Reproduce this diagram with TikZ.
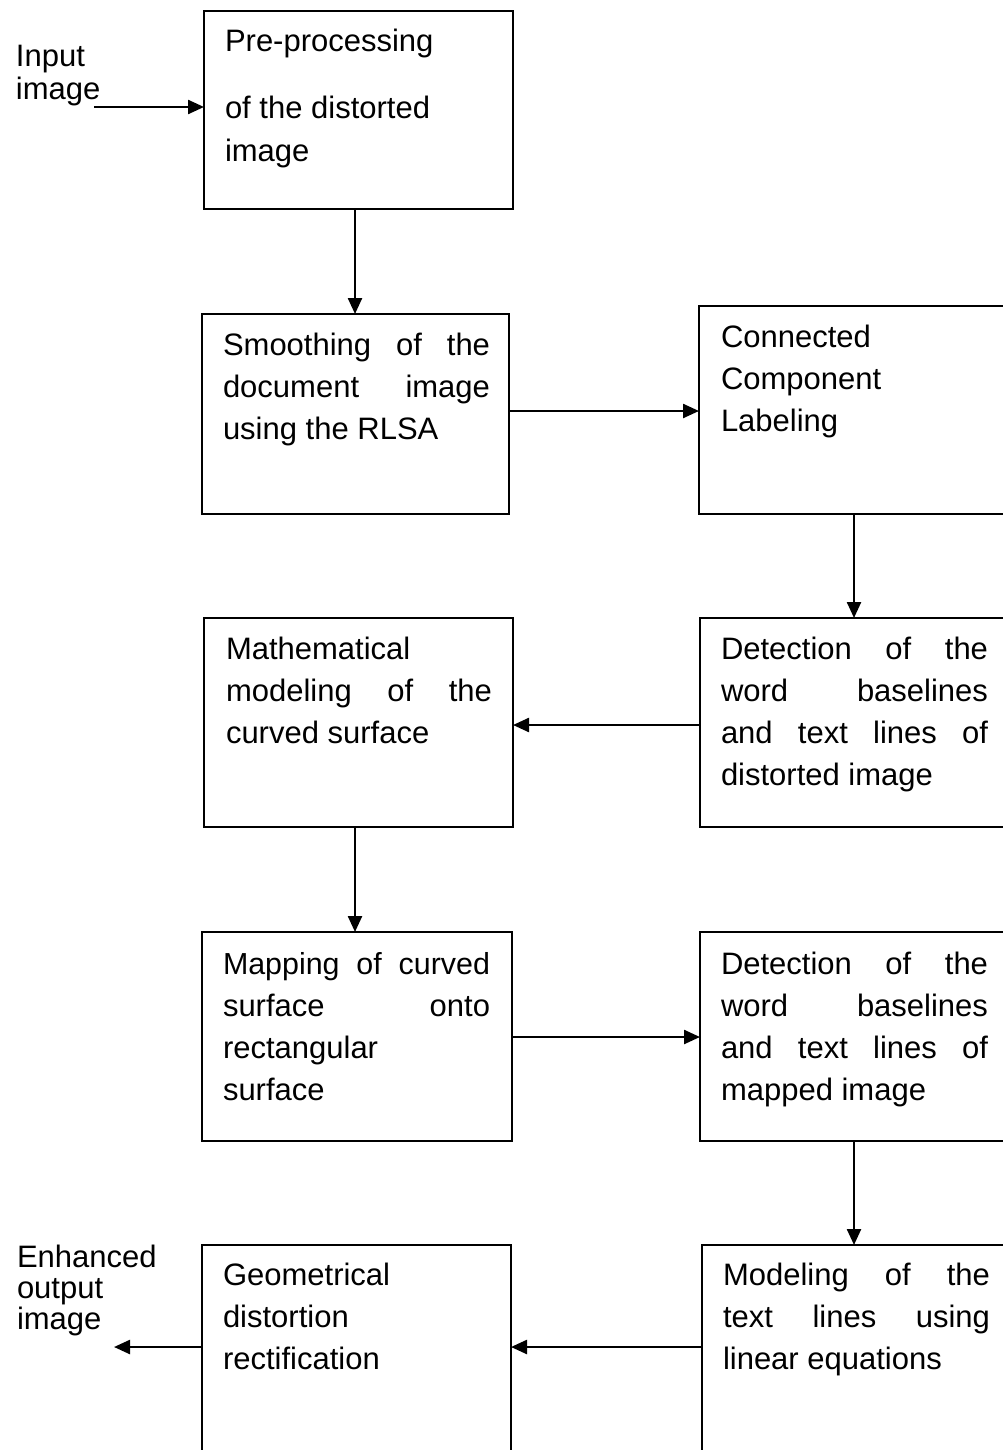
\documentclass[tikz,border=0pt]{standalone}
\usepackage{fontspec}
\setmainfont{Liberation Sans}
\usetikzlibrary{arrows.meta}
\begin{document}
\begin{tikzpicture}[x=1pt,y=-1pt,
  box/.style={draw=black,line width=1.7pt,inner sep=0pt,outer sep=0pt,anchor=north west,fill=none},
  txt/.style={inner sep=0pt,outer sep=0pt,anchor=base west,font=\fontsize{31}{42}\selectfont},
  arr/.style={line width=2.4pt,-{Triangle[length=16pt,width=14pt]}}]
\useasboundingbox (0,0) rectangle (1003,1450);
\fill[white] (0,0) rectangle (1003,1450);
\begin{scope}
\clip (0,0) rectangle (1003,1450);
% boxes
\node[box,minimum width=309pt,minimum height=198pt] (b1) at (204,11) {};
\node[box,minimum width=307pt,minimum height=200pt] (b2) at (202,314) {};
\node[box,minimum width=320pt,minimum height=208pt] (b3) at (699,306) {};
\node[box,minimum width=309pt,minimum height=209pt] (b4) at (204,618) {};
\node[box,minimum width=320pt,minimum height=209pt] (b5) at (700,618) {};
\node[box,minimum width=310pt,minimum height=209pt] (b6) at (202,932) {};
\node[box,minimum width=320pt,minimum height=209pt] (b7) at (700,932) {};
\node[box,minimum width=309pt,minimum height=220pt] (b8) at (202,1245) {};
\node[box,minimum width=320pt,minimum height=220pt] (b9) at (702,1245) {};
\end{scope}
% texts
\node[txt] (t1a) at (225,52) {Pre-processing};
\node[txt] (t1b) at (225,119) {of the distorted};
\node[txt] (t1c) at (225,162) {image};

\node[txt] (t2a) at (223,355) {\makebox[267pt][s]{Smoothing of the}};
\node[txt] (t2b) at (223,397) {\makebox[267pt][s]{document image}};
\node[txt] (t2c) at (223,439) {using the RLSA};

\node[txt] (t3a) at (721,347) {Connected};
\node[txt] (t3b) at (721,389) {Component};
\node[txt] (t3c) at (721,431) {Labeling};

\node[txt] (t4a) at (226,659) {Mathematical};
\node[txt] (t4b) at (226,701) {\makebox[266pt][s]{modeling of the}};
\node[txt] (t4c) at (226,743) {curved surface};

\node[txt] (t5a) at (721,659) {\makebox[267pt][s]{Detection of the}};
\node[txt] (t5b) at (721,701) {\makebox[267pt][s]{word baselines}};
\node[txt] (t5c) at (721,743) {\makebox[267pt][s]{and text lines of}};
\node[txt] (t5d) at (721,785) {distorted image};

\node[txt] (t6a) at (223,974) {\makebox[267pt][s]{\fontsize{30.4}{42}\selectfont Mapping of curved}};
\node[txt] (t6b) at (223,1016) {\makebox[267pt][s]{surface onto}};
\node[txt] (t6c) at (223,1058) {rectangular};
\node[txt] (t6d) at (223,1100) {surface};

\node[txt] (t7a) at (721,974) {\makebox[267pt][s]{Detection of the}};
\node[txt] (t7b) at (721,1016) {\makebox[267pt][s]{word baselines}};
\node[txt] (t7c) at (721,1058) {\makebox[267pt][s]{and text lines of}};
\node[txt] (t7d) at (721,1100) {mapped image};

\node[txt] (t8a) at (223,1285) {Geometrical};
\node[txt] (t8b) at (223,1327) {distortion};
\node[txt] (t8c) at (223,1369) {rectification};

\node[txt] (t9a) at (723,1285) {\makebox[267pt][s]{Modeling of the}};
\node[txt] (t9b) at (723,1327) {\makebox[267pt][s]{text lines using}};
\node[txt] (t9c) at (723,1369) {linear equations};

% side labels
\node[txt] (in1) at (16,67) {Input};
\node[txt] (in2) at (16,100) {image};
\node[txt] (out1) at (17,1267) {Enhanced};
\node[txt] (out2) at (17,1298) {output};
\node[txt] (out3) at (17,1329) {image};

% coordinates
\coordinate (cin) at (94,107);
\coordinate (cout) at (114,1347);
\coordinate (xl) at (355,0);
\coordinate (xr) at (854,0);
\coordinate (y23) at (0,411);
\coordinate (y54) at (0,725);
\coordinate (y67) at (0,1037);
\coordinate (y98) at (0,1347);

% connectors
\draw[arr] (cin) -- (b1.west |- cin);
\draw[arr] (b1.south -| xl) -- (b2.north -| xl);
\draw[arr] (b2.east |- y23) -- (b3.west |- y23);
\draw[arr] (b3.south -| xr) -- (b5.north -| xr);
\draw[arr] (b5.west |- y54) -- (b4.east |- y54);
\draw[arr] (b4.south -| xl) -- (b6.north -| xl);
\draw[arr] (b6.east |- y67) -- (b7.west |- y67);
\draw[arr] (b7.south -| xr) -- (b9.north -| xr);
\draw[arr] (b9.west |- y98) -- (b8.east |- y98);
\draw[arr] (b8.west |- y98) -- (cout);
\end{tikzpicture}
\end{document}
